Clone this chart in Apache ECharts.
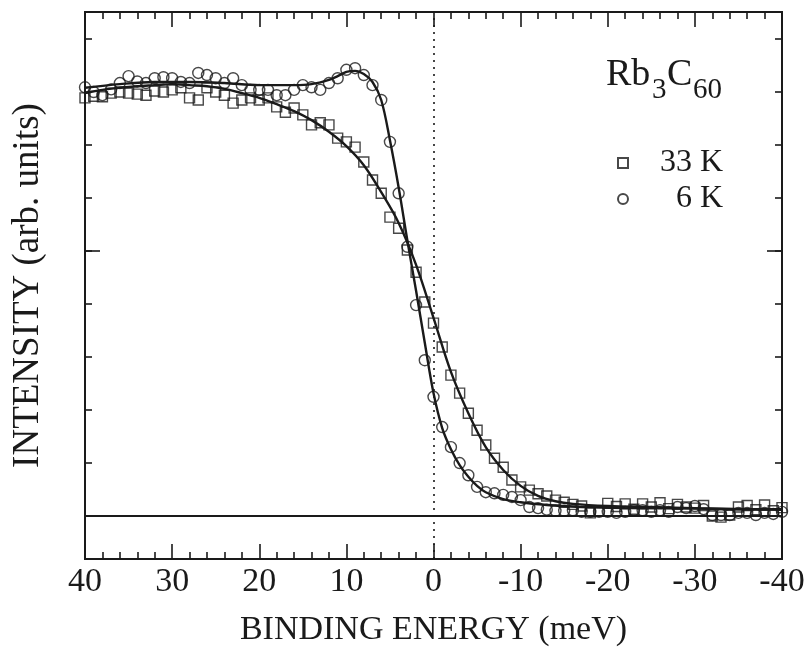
<!DOCTYPE html>
<html><head><meta charset="utf-8">
<script src="https://cdn.jsdelivr.net/npm/echarts@6/dist/echarts.min.js"></script>
<style>html,body{margin:0;padding:0;background:#fff}#c{width:808px;height:660px}</style>
</head><body><div id="c"></div>
<script>
const energy = [40,39,38,37,36,35,34,33,32,31,30,29,28,27,26,25,24,23,22,21,20,19,18,17,16,15,14,13,12,11,10,9,8,7,6,5,4,3,2,1,0,-1,-2,-3,-4,-5,-6,-7,-8,-9,-10,-11,-12,-13,-14,-15,-16,-17,-18,-19,-20,-21,-22,-23,-24,-25,-26,-27,-28,-29,-30,-31,-32,-33,-34,-35,-36,-37,-38,-39,-40];
const intensity33K = [7.89,7.92,7.91,7.98,8.00,7.98,7.96,7.94,8.02,8.00,8.04,8.08,7.89,7.85,8.08,8.00,7.94,7.79,7.85,7.89,7.85,7.89,7.72,7.62,7.70,7.57,7.38,7.42,7.38,7.13,7.06,6.96,6.68,6.34,6.09,5.64,5.43,5.02,4.60,4.04,3.64,3.19,2.66,2.32,1.94,1.62,1.34,1.09,0.92,0.68,0.55,0.49,0.42,0.38,0.30,0.26,0.22,0.19,0.06,0.10,0.24,0.18,0.23,0.13,0.23,0.17,0.25,0.14,0.22,0.17,0.15,0.20,0.00,-0.02,0.02,0.17,0.20,0.12,0.21,0.10,0.16];
const intensity6K = [8.09,8.00,7.94,8.05,8.17,8.30,8.20,8.17,8.26,8.28,8.26,8.19,8.17,8.36,8.32,8.26,8.17,8.26,8.13,8.04,8.04,8.04,7.94,7.94,8.04,8.13,8.09,8.04,8.17,8.26,8.42,8.45,8.32,8.13,7.85,7.06,6.09,5.08,3.98,2.94,2.25,1.68,1.30,1.00,0.77,0.55,0.45,0.43,0.40,0.36,0.30,0.17,0.15,0.12,0.10,0.10,0.11,0.08,0.08,0.08,0.08,0.06,0.08,0.11,0.11,0.08,0.11,0.08,0.17,0.15,0.19,0.13,0.02,0.02,0.02,0.06,0.06,0.02,0.06,0.04,0.08];
const fitEnergy33K = [40,38,36,34,32,30,28,26,24,22,20,18,16,14,12,10,8,6,4,2,0,-2,-4,-6,-8,-10,-12,-14,-16,-20,-25,-30,-35,-40];
const fit33K = [7.98,8.04,8.08,8.11,8.13,8.15,8.13,8.11,8.06,7.98,7.89,7.77,7.64,7.47,7.25,6.98,6.62,6.11,5.53,4.74,3.74,2.72,1.94,1.30,0.87,0.57,0.38,0.28,0.23,0.19,0.17,0.15,0.13,0.13];
const fitEnergy6K = [40,36,32,28,24,20,16,14,12,11,10,9,8,7,6,5,4,3,2,1,0,-1,-2,-3,-4,-5,-6,-8,-10,-13,-17,-22,-30,-40];
const fit6K = [8.08,8.15,8.19,8.19,8.17,8.13,8.13,8.15,8.23,8.30,8.38,8.40,8.34,8.19,7.85,7.09,6.20,5.20,4.25,3.27,2.32,1.66,1.26,0.96,0.74,0.57,0.45,0.32,0.26,0.21,0.17,0.15,0.14,0.12];
const yTickValues = [0,1,2,3,4,5,6,7,8,9];
const yMajorTicks = [0,5];
const seriesNames = ['33 K','6 K'];

const pair = (xs, ys) => xs.map((x, i) => [x, ys[i]]);
const FONT = '"Liberation Serif", "Times New Roman", serif';
const INK = '#1a1a1a';

const xBase = {
  type: 'value', inverse: true, min: -40, max: 40, interval: 10,
  axisLine: {show: true, onZero: false, lineStyle: {color: INK, width: 2}},
  axisTick: {show: true, inside: true, length: 15, lineStyle: {color: INK, width: 1.6}},
  minorTick: {show: true, splitNumber: 5, length: 7, lineStyle: {color: INK, width: 1.6}},
  splitLine: {show: false}, minorSplitLine: {show: false}
};
const yBase = (pos, vals, len, extra) => Object.assign({
  type: 'value', position: pos, min: -0.81, max: 9.51,
  axisLine: {show: true, onZero: false, lineStyle: {color: INK, width: 2}},
  axisTick: {show: true, inside: true, length: len, customValues: vals, lineStyle: {color: INK, width: 1.6}},
  axisLabel: {show: false}, splitLine: {show: false}
}, extra || {});

const chart = echarts.init(document.getElementById('c'), null, {renderer: 'canvas'});
chart.setOption({
  animation: false,
  backgroundColor: '#ffffff',
  grid: {left: 85, right: 26, top: 12, bottom: 101, containLabel: false},
  xAxis: [
    Object.assign({}, xBase, {
      position: 'bottom',
      axisLabel: {show: true, fontSize: 34, fontFamily: FONT, color: INK, margin: 6},
      name: 'BINDING ENERGY (meV)', nameLocation: 'middle', nameGap: 54,
      nameTextStyle: {fontSize: 34, fontFamily: FONT, color: INK}
    }),
    Object.assign({}, xBase, {position: 'top', axisLabel: {show: false}})
  ],
  yAxis: [
    yBase('left', yTickValues, 7, {
      name: 'INTENSITY (arb. units)', nameLocation: 'middle', nameGap: 38,
      nameTextStyle: {fontSize: 37, fontFamily: FONT, color: INK}
    }),
    yBase('left', yMajorTicks, 15),
    yBase('right', yTickValues, 7),
    yBase('right', yMajorTicks, 15)
  ],
  legend: {
    data: seriesNames, orient: 'vertical', left: 612, top: 142, itemGap: 4,
    itemWidth: 10, itemHeight: 10, selectedMode: false,
    formatter: n => '{v|' + n + '}',
    textStyle: {fontFamily: FONT, color: INK, rich: {v: {width: 90, align: 'right', fontSize: 32, fontFamily: FONT, lineHeight: 30, color: INK}}}
  },
  graphic: [
    {type: 'text', left: 606, top: 56, style: {text: 'Rb', font: '38px ' + FONT, fill: INK}},
    {type: 'text', left: 652, top: 76, style: {text: '3', font: '29px ' + FONT, fill: INK}},
    {type: 'text', left: 667, top: 56, style: {text: 'C', font: '38px ' + FONT, fill: INK}},
    {type: 'text', left: 693, top: 76, style: {text: '60', font: '29px ' + FONT, fill: INK}}
  ],
  series: [
    {
      name: '33 K', type: 'scatter', symbol: 'rect', symbolSize: 10,
      data: pair(energy, intensity33K),
      itemStyle: {color: 'rgba(255,255,255,0)', borderColor: INK, borderWidth: 1.4},
      z: 2
    },
    {
      name: '6 K', type: 'scatter', symbol: 'circle', symbolSize: 11,
      data: pair(energy, intensity6K),
      itemStyle: {color: 'rgba(255,255,255,0)', borderColor: INK, borderWidth: 1.4},
      z: 2
    },
    {
      name: '33 K fit', type: 'line', smooth: 0.35, showSymbol: false,
      data: pair(fitEnergy33K, fit33K),
      lineStyle: {color: INK, width: 2.4}, z: 3,
      markLine: {
        silent: true, symbol: 'none', label: {show: false}, animation: false,
        data: [
          {yAxis: 0, lineStyle: {color: INK, width: 1.8, type: 'solid'}},
          {xAxis: 0, lineStyle: {color: INK, width: 1.6, type: [2, 5]}}
        ]
      }
    },
    {
      name: '6 K fit', type: 'line', smooth: 0.35, showSymbol: false,
      data: pair(fitEnergy6K, fit6K),
      lineStyle: {color: INK, width: 2.4}, z: 3
    }
  ]
});
</script>
</body></html>
